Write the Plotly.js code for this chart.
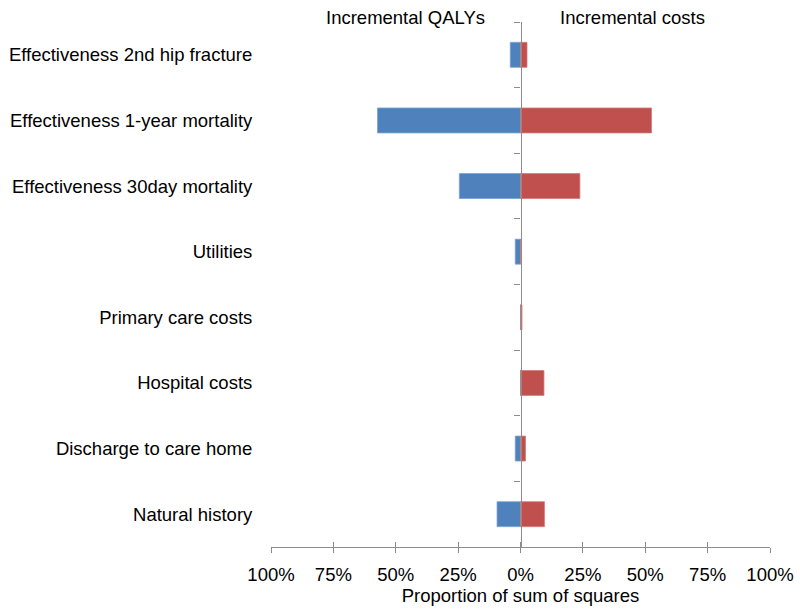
<!DOCTYPE html>
<html>
<head>
<meta charset="utf-8">
<script src="https://cdn.plot.ly/plotly-3.0.1.min.js"></script>
<style>html,body{margin:0;padding:0;background:#fff;}#chart{width:800px;height:611px;}</style>
</head>
<body>
<div id="chart"></div>
<script>
// Parameters (top to bottom)
const categories = [
  "Effectiveness 2nd hip fracture",
  "Effectiveness 1-year mortality",
  "Effectiveness 30day mortality",
  "Utilities",
  "Primary care costs",
  "Hospital costs",
  "Discharge to care home",
  "Natural history"
];
// Proportion of sum of squares (%)
const qalyShare = [4.1, 57.3, 24.5, 2.1, 0, 0, 2.1, 9.4];
const costShare = [2.6, 52.5, 23.8, 0, 0.6, 9.4, 2.0, 9.6];
const tickValues = [-100, -75, -50, -25, 0, 25, 50, 75, 100];
const tickLabels = ["100%", "75%", "50%", "25%", "0%", "25%", "50%", "75%", "100%"];
const headerQaly = "Incremental QALYs";
const headerCost = "Incremental costs";

const FONT = "Liberation Sans, Arial, sans-serif";
const FS = 18.5;
const AXIS_GREY = "#8c8c8c";
const n = categories.length;
const boundaries = [];
for (let i = 0; i <= n; i++) boundaries.push(i - 0.5);

const traces = [
  {
    type: "bar", orientation: "h", name: headerQaly,
    y: categories, x: qalyShare.map(v => -v),
    customdata: qalyShare,
    hovertemplate: "%{y}: %{customdata}%<extra>QALYs</extra>",
    width: 0.38,
    marker: {color: "#4F81BD", line: {color: "#7a9fd0", width: 0.8}}
  },
  {
    type: "bar", orientation: "h", name: headerCost,
    y: categories, x: costShare,
    hovertemplate: "%{y}: %{x}%<extra>Costs</extra>",
    width: 0.38,
    marker: {color: "#C0504D", line: {color: "#d27a78", width: 0.8}}
  }
];

const layout = {
  width: 800, height: 611,
  margin: {l: 271, r: 30, t: 22, b: 64},
  paper_bgcolor: "#fff", plot_bgcolor: "#fff",
  barmode: "relative",
  showlegend: false,
  font: {family: FONT, size: FS, color: "#000"},
  xaxis: {
    range: [-100, 100],
    tickmode: "array", tickvals: tickValues, ticktext: tickLabels,
    ticks: "outside", ticklen: 5, tickcolor: AXIS_GREY, tickwidth: 1.3,
    ticklabelstandoff: 6,
    showline: true, linecolor: AXIS_GREY, linewidth: 1.3,
    showgrid: false, zeroline: false,
    tickfont: {family: FONT, size: FS, color: "#000"},
    title: {text: "Proportion of sum of squares", font: {family: FONT, size: FS, color: "#000"}, standoff: 3},
    fixedrange: true
  },
  xaxis2: {
    overlaying: "x", anchor: "y", side: "bottom",
    range: [-100, 100],
    tickmode: "array", tickvals: tickValues,
    ticks: "inside", ticklen: 5, tickcolor: AXIS_GREY, tickwidth: 1.3,
    showticklabels: false, showline: false, showgrid: false, zeroline: false,
    fixedrange: true
  },
  yaxis: {
    type: "category",
    categoryorder: "array", categoryarray: categories,
    range: [n - 0.5, -0.5],
    ticks: "outside", ticklen: 14, tickcolor: "rgba(0,0,0,0)",
    showline: false, showgrid: false, zeroline: false,
    tickfont: {family: FONT, size: FS, color: "#000"},
    fixedrange: true
  },
  yaxis2: {
    overlaying: "y", anchor: "free", position: 0.5, side: "left",
    range: [n - 0.5, -0.5],
    tickmode: "array", tickvals: boundaries,
    ticks: "outside", ticklen: 6, tickcolor: AXIS_GREY, tickwidth: 1.3,
    showticklabels: false, showline: true, linecolor: AXIS_GREY, linewidth: 1.3,
    showgrid: false, zeroline: false,
    fixedrange: true
  },
  annotations: [
    {text: headerQaly, xref: "x", yref: "paper", x: -46, y: 1, xanchor: "center", yanchor: "middle", yshift: 5, showarrow: false,
     font: {family: FONT, size: FS, color: "#000"}},
    {text: headerCost, xref: "x", yref: "paper", x: 45, y: 1, xanchor: "center", yanchor: "middle", yshift: 5, showarrow: false,
     font: {family: FONT, size: FS, color: "#000"}}
  ]
};

// invisible helper trace so the overlay axes are drawn
traces.push({type: "scatter", x: [0], y: [0], xaxis: "x2", yaxis: "y2", mode: "markers", marker: {opacity: 0}, hoverinfo: "skip"});

Plotly.newPlot("chart", traces, layout, {displayModeBar: false});
</script>
</body>
</html>
